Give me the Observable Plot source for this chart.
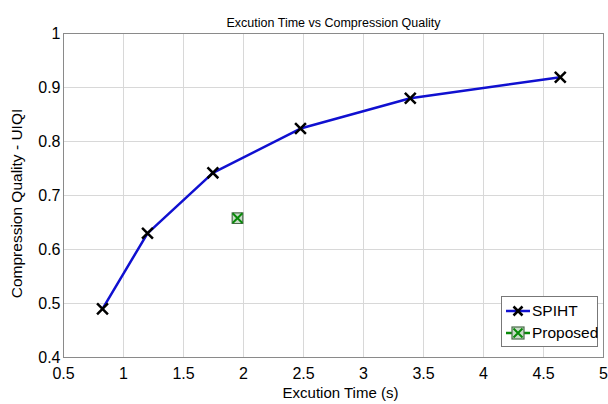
<!DOCTYPE html>
<html><head><meta charset="utf-8">
<script src="https://cdn.jsdelivr.net/npm/d3@7"></script>
<script src="https://cdn.jsdelivr.net/npm/@observablehq/plot@0.6"></script>
<style>
body{margin:0;background:#fff;}
#wrap{position:relative;width:608px;height:404px;font-family:"Liberation Sans",Arial,sans-serif;}
#legend{position:absolute;left:501px;top:296px;width:97px;height:51px;border:1px solid #777;background:#fff;box-sizing:border-box;font-size:15.5px;}
#legend div{position:absolute;left:2px;height:20px;display:flex;align-items:center;}
#legend span{margin-left:1px;}
</style></head>
<body><div id="wrap"></div>
<script>
const title = "Excution Time vs Compression Quality";
const xLabel = "Excution Time (s)";
const yLabel = "Compression Quality - UIQI";
const seriesNames = ["SPIHT", "Proposed"];
const spihtTime = [0.825, 1.2, 1.745, 2.475, 3.39, 4.64];
const spihtQuality = [0.49, 0.63, 0.742, 0.824, 0.88, 0.919];
const proposedTime = [1.95];
const proposedQuality = [0.658];
const xTicks = [0.5, 1, 1.5, 2, 2.5, 3, 3.5, 4, 4.5, 5];
const yTicks = [0.4, 0.5, 0.6, 0.7, 0.8, 0.9, 1];

const spiht = spihtTime.map((t, i) => ({t, q: spihtQuality[i]}));
const proposed = proposedTime.map((t, i) => ({t, q: proposedQuality[i]}));
const fmt = d => String(d);

const chart = Plot.plot({
  width: 608, height: 404,
  marginLeft: 63, marginRight: 5, marginTop: 33, marginBottom: 47,
  style: {fontFamily: "'Liberation Sans', Arial, sans-serif", fontSize: "16px", color: "#000", background: "#fff"},
  x: {domain: [0.5, 5], ticks: xTicks, tickFormat: fmt, tickSize: 0, tickPadding: 10, label: null},
  y: {domain: [0.4, 1], ticks: yTicks, tickFormat: fmt, tickSize: 0, tickPadding: 3, label: null},
  marks: [
    Plot.gridX(xTicks, {stroke: "#d8d8d8", strokeOpacity: 1}),
    Plot.gridY(yTicks, {stroke: "#d8d8d8", strokeOpacity: 1}),
    Plot.frame({stroke: "#8a8a8a"}),
    Plot.line(spiht, {x: "t", y: "q", stroke: "#1010d0", strokeWidth: 2.5}),
    Plot.dot(spiht, {x: "t", y: "q", symbol: "times", r: 5, stroke: "#000", strokeWidth: 2.5}),
    Plot.dot(proposed, {x: "t", y: "q", symbol: "square", r: 6, fill: "#c9dcc9", stroke: "#4a6a4a", strokeWidth: 1.2}),
    Plot.dot(proposed, {x: "t", y: "q", symbol: "times", r: 4.5, stroke: "#0a8a0a", strokeWidth: 2}),
    Plot.text([title], {frameAnchor: "top", dy: -15, fontSize: 12.5, fill: "#000"}),
    Plot.text([xLabel], {frameAnchor: "bottom", dx: 7, dy: 40, fontSize: 15, fill: "#000"}),
    Plot.text([yLabel], {frameAnchor: "left", textAnchor: "middle", dx: -46, dy: 8, rotate: -90, fontSize: 15.5, fill: "#000"})
  ]
});
const wrap = document.getElementById("wrap");
wrap.appendChild(chart);

const legend = document.createElement("div");
legend.id = "legend";
const sym = (color, boxed) => `<svg width="27" height="20" viewBox="0 0 27 20">
  <line x1="2" y1="10" x2="26" y2="10" stroke="${color}" stroke-width="2.5"/>
  ${boxed ? '<rect x="8" y="4" width="12" height="12" fill="#c9dcc9" stroke="#4a6a4a" stroke-width="1.2"/>' : ''}
  <path d="M9.5 5.5 L18.5 14.5 M18.5 5.5 L9.5 14.5" stroke="${boxed ? '#0a8a0a' : '#000'}" stroke-width="${boxed ? 2 : 2.5}"/>
</svg>`;
legend.innerHTML = `<div style="top:4px">${sym("#1010d0", false)}<span>${seriesNames[0]}</span></div>
<div style="top:26px">${sym("#0a8a0a", true)}<span>${seriesNames[1]}</span></div>`;
wrap.appendChild(legend);
</script></body></html>
